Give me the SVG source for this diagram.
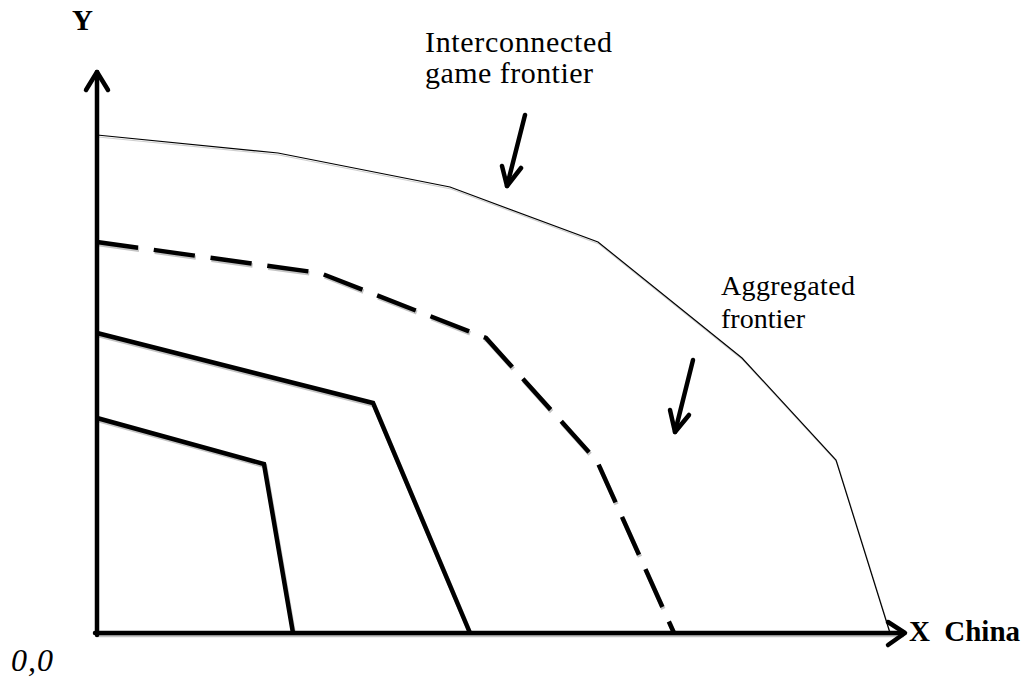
<svg xmlns="http://www.w3.org/2000/svg" width="1026" height="680" viewBox="0 0 1026 680">
<style>
.thick{fill:none;stroke:#000;stroke-width:4.5;stroke-linejoin:miter}
.shadow{fill:none;stroke:#c4c4c4;stroke-width:4.5}
.thin{fill:none;stroke:#000;stroke-width:1.2}
.thinsh{fill:none;stroke:#cfcfcf;stroke-width:1.2}
.dash{stroke-dasharray:41.5 15.8}
.arr{fill:none;stroke:#000;stroke-width:4.5;stroke-linecap:round;stroke-linejoin:round}
text{fill:#000}
</style>
<rect width="1026" height="680" fill="#fff"/>
<g id="shadows" transform="translate(1,2)">
<polyline class="shadow" points="97,333 373,403 470,633"/>
<polyline class="shadow" points="97,418 264,464 293,633"/>
<polyline class="shadow dash" points="97,242 320,273 486,338 597,461 674,633"/>
<polyline class="thinsh" points="97,135 278,153 450,187 598,242 742,358 836,460 890,633"/>
<line class="shadow" x1="97" y1="633" x2="903" y2="633"/>
</g>
<g id="connectors">
<polyline id="frontier-outer" class="thin" points="97,135 278,153 450,187 598,242 742,358 836,460 890,633"/>
<polyline id="frontier-aggregated" class="thick dash" points="97,242 320,273 486,338 597,461 674,633"/>
<polyline id="frontier-2" class="thick" points="97,333 373,403 470,633"/>
<polyline id="frontier-1" class="thick" points="97,418 264,464 293,633"/>
<g id="axes">
<line class="arr" x1="97" y1="635" x2="97" y2="72"/>
<polyline class="arr" points="86,90 97,72 108,90"/>
<line class="arr" x1="95" y1="633" x2="904" y2="633"/>
<polyline class="arr" points="888,622 905,633 888,645"/>
</g>
<g id="pointer-arrows">
<line class="arr" x1="525" y1="115" x2="507" y2="186"/>
<polyline class="arr" points="502,166 507,186 521,168"/>
<line class="arr" x1="693" y1="360" x2="675" y2="432"/>
<polyline class="arr" points="670,410 675,432 689,415"/>
</g>
</g>
<g id="label-y"><text font-family="'Liberation Serif','DejaVu Serif',serif" x="72" y="30" font-size="29" font-weight="bold" textLength="25">Y</text></g>
<g id="label-interconnected">
<text font-family="'Liberation Serif','DejaVu Serif',serif" x="425" y="52" font-size="30" textLength="187">Interconnected</text>
<text font-family="'Liberation Serif','DejaVu Serif',serif" x="425" y="83" font-size="30" textLength="168">game frontier</text>
</g>
<g id="label-aggregated">
<text font-family="'Liberation Serif','DejaVu Serif',serif" x="721" y="295" font-size="28" textLength="134">Aggregated</text>
<text font-family="'Liberation Serif','DejaVu Serif',serif" x="721" y="328" font-size="28">frontier</text>
</g>
<g id="label-x"><text font-family="'Liberation Serif','DejaVu Serif',serif" x="909" y="641" font-size="29" font-weight="bold" xml:space="preserve" textLength="111">X  China</text></g>
<g id="label-origin"><text font-family="'Liberation Serif','DejaVu Serif',serif" x="11" y="671" font-size="32" font-style="italic" textLength="42">0,0</text></g>
</svg>
